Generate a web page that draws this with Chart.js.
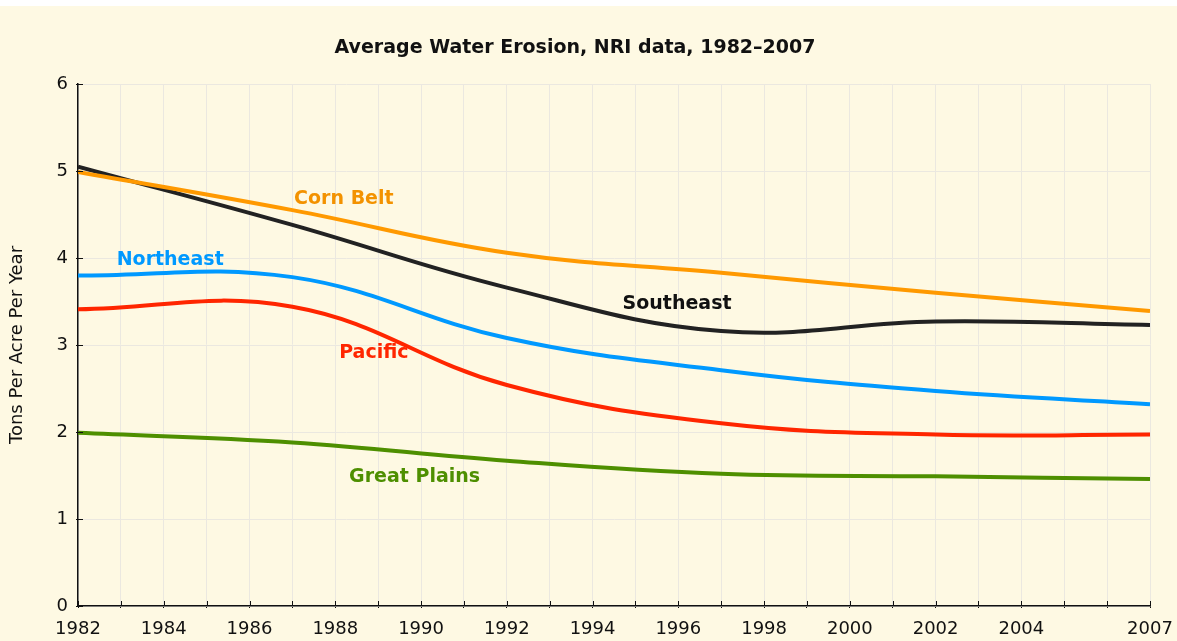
<!DOCTYPE html>
<html lang="en">
<head>
  <meta charset="UTF-8" />
  <title>Average Water Erosion, NRI data, 1982-2007</title>
  <script src="https://cdn.jsdelivr.net/npm/chart.js"></script>
  <style>
    html, body { margin: 0; padding: 0; background: #fff; }
    body { width: 1177px; height: 641px; overflow: hidden; }
    #wrap { position: absolute; left: 0; top: 6px; width: 1177px; height: 635px; background: #fef9e3; }
  </style>
</head>
<body>
  <div id="wrap"><canvas id="erosionChart" width="1177" height="635"></canvas></div>

  <script>
    // NRI survey years
    const years = [1982, 1987, 1992, 1997, 2002, 2007];

    // tons per acre per year
    const cornBelt    = [4.99, 4.55, 4.06, 3.83, 3.60, 3.39];
    const southeast   = [5.05, 4.38, 3.66, 3.16, 3.27, 3.23];
    const northeast   = [3.80, 3.78, 3.08, 2.71, 2.47, 2.32];
    const pacific     = [3.41, 3.44, 2.54, 2.10, 1.97, 1.97];
    const greatPlains = [1.99, 1.88, 1.67, 1.52, 1.49, 1.46];

    const regionNames = ["Corn Belt", "Northeast", "Southeast", "Pacific", "Great Plains"];
    const regionColors = ["#ff9900", "#0099ff", "#222222", "#ff2600", "#4e8f00"];
    const labelColors  = ["#f39200", "#0099ff", "#111111", "#ff2600", "#4e8f00"];
    // where each region name sits (year, value)
    const labelYears  = [1988.2, 1984.15, 1995.97, 1988.9, 1989.85];
    const labelValues = [4.68, 3.98, 3.47, 2.91, 1.48];

    const xTickLabels = [1982, 1984, 1986, 1988, 1990, 1992, 1994, 1996, 1998, 2000, 2002, 2004, 2007];

    const seriesValues = [cornBelt, northeast, southeast, pacific, greatPlains];

    const datasets = regionNames.map((name, i) => ({
      label: name,
      data: years.map((y, j) => ({ x: y, y: seriesValues[i][j] })),
      borderColor: regionColors[i],
      borderWidth: 4,
      pointRadius: 0,
      tension: 0.4,
      fill: false
    }));

    // inward tick marks on both axes + region names
    const extras = {
      id: "extras",
      afterDatasetsDraw(chart) {
        const ctx = chart.ctx;
        const xs = chart.scales.x, ys = chart.scales.y;
        const area = chart.chartArea;
        ctx.save();
        ctx.strokeStyle = "#111";
        ctx.lineWidth = 1;
        ctx.beginPath();
        xs.ticks.forEach(t => {
          const px = Math.round(xs.getPixelForValue(t.value)) + 0.5;
          ctx.moveTo(px, area.bottom);
          ctx.lineTo(px, area.bottom - 5);
        });
        ys.ticks.forEach(t => {
          const py = Math.round(ys.getPixelForValue(t.value)) + 0.5;
          ctx.moveTo(area.left, py);
          ctx.lineTo(area.left + 5, py);
        });
        ctx.stroke();

        ctx.font = "bold 19px 'DejaVu Sans'";
        ctx.textAlign = "center";
        ctx.textBaseline = "middle";
        regionNames.forEach((name, i) => {
          ctx.fillStyle = labelColors[i];
          ctx.fillText(name, xs.getPixelForValue(labelYears[i]), ys.getPixelForValue(labelValues[i]));
        });
        ctx.restore();
      }
    };

    new Chart(document.getElementById("erosionChart"), {
      type: "line",
      data: { datasets },
      options: {
        responsive: false,
        animation: false,
        layout: { padding: { top: 19, right: 27, left: 0, bottom: 0 } },
        plugins: {
          legend: { display: false },
          tooltip: { enabled: false },
          title: {
            display: true,
            text: "Average Water Erosion, NRI data, 1982\u20132007",
            color: "#111",
            font: { family: "'DejaVu Sans'", size: 19, weight: "bold" },
            padding: { top: 12, bottom: 24.2 }
          }
        },
        scales: {
          x: {
            type: "linear",
            min: 1982,
            max: 2007,
            afterFit(scale) {
              scale.height = 35;
              scale.paddingLeft = 0;
              scale.paddingRight = 0;
            },
            border: { color: "#111", width: 1.5 },
            grid: { color: "#ebe8e0", lineWidth: 1, tickColor: "#111", tickLength: 2 },
            ticks: {
              stepSize: 1,
              autoSkip: false,
              maxRotation: 0,
              padding: 11,
              color: "#111",
              font: { family: "'DejaVu Sans'", size: 18 },
              callback: v => xTickLabels.includes(v) ? String(v) : ""
            }
          },
          y: {
            min: 0,
            max: 6,
            afterFit(scale) {
              scale.width = 78;
              scale.paddingTop = 0;
              scale.paddingBottom = 0;
            },
            border: { color: "#111", width: 1.5 },
            grid: { color: "#ebe8e0", lineWidth: 1, tickColor: "#111", tickLength: 2 },
            ticks: {
              stepSize: 1,
              padding: 8,
              color: "#111",
              font: { family: "'DejaVu Sans'", size: 18 }
            },
            title: {
              display: true,
              text: "Tons Per Acre Per Year",
              color: "#111",
              font: { family: "'DejaVu Sans'", size: 18 },
              padding: { top: 7, bottom: 0 }
            }
          }
        }
      },
      plugins: [extras]
    });
  </script>
</body>
</html>
